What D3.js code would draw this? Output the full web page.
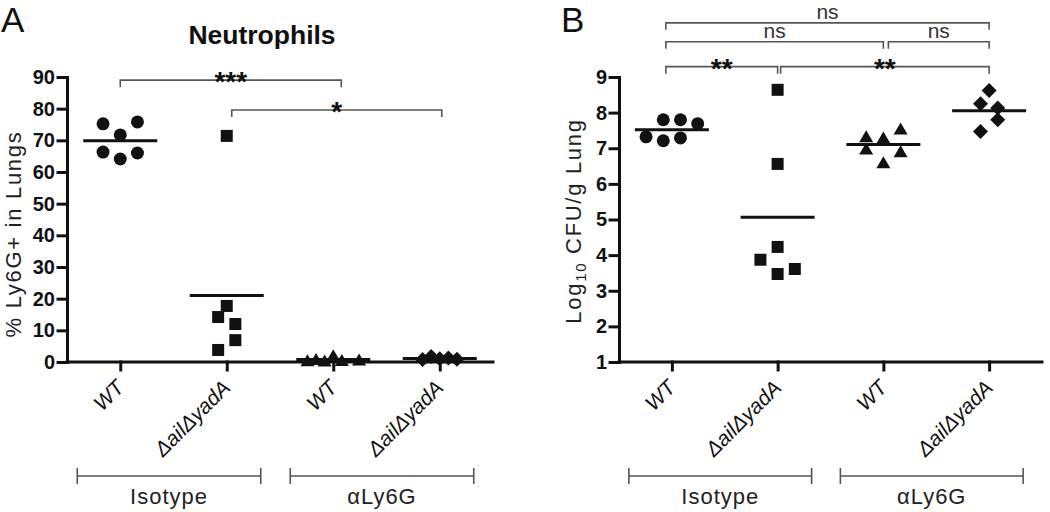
<!DOCTYPE html>
<html>
<head>
<meta charset="utf-8">
<script src="https://cdn.jsdelivr.net/npm/d3@7"></script>
<style>
body { margin: 0; background: #fff; }
svg { font-family: "Liberation Sans", Arial, Helvetica, sans-serif; }
</style>
</head>
<body>
<div id="chart"></div>
<script>
// categories shared by both panels
var strains = ["WT", "\u0394ail\u0394yadA", "WT", "\u0394ail\u0394yadA"];
var treatments = ["Isotype", "\u03b1Ly6G"];
var symbols = ["circle", "square", "triangle", "diamond"];

// panel A - % Ly6G+ in lungs
var neutWTIso = [75.2, 75.8, 71.7, 66.3, 66.0, 64.1];
var neutMutIso = [71.4, 17.7, 14.2, 12.0, 6.9, 3.8];
var neutWTLy6G = [0.4, 0.8, 0.3, 2.0, 0.5, 0.6];
var neutMutLy6G = [0.8, 1.7, 1.0, 1.3, 0.9];
// column slot of each point (scatter spread, half symbol widths)
var neutSlots = [[-2, 2, 0, -2, 2, 0], [0, 0, -1, 1, 1, -1], [-3, -2, -1, 0, 1, 3], [-2, -1, 0, 1, 2]];
var neutTicks = [0, 10, 20, 30, 40, 50, 60, 70, 80, 90];
var neutSig = [
    {from: 0, to: 2, at: 89, label: "***"},
    {from: 1, to: 3, at: 79.6, label: "*"}
];

// panel B - log10 CFU/g lung
var cfuWTIso = [7.32, 7.80, 7.21, 7.80, 7.29, 7.69];
var cfuMutIso = [8.64, 6.56, 4.23, 3.87, 3.61, 3.47];
var cfuWTLy6G = [7.32, 7.29, 7.54, 6.98, 6.90, 6.59];
var cfuMutLy6G = [8.62, 8.25, 8.13, 7.80, 7.47];
var cfuSlots = [[-3, -1, -1, 1, 1, 3], [0, 0, 0, -2, 2, 0], [-2, 0, 2, -2, 2, 0], [0, -1, 1, 1, -1]];
var cfuTicks = [1, 2, 3, 4, 5, 6, 7, 8, 9];
var cfuSig = [
    {from: 0, to: 3, at: 10.52, label: "ns"},
    {from: 0, to: 2, at: 9.99, label: "ns"},
    {from: 2, to: 3, at: 9.99, label: "ns"},
    {from: 0, to: 1, at: 9.29, label: "**"},
    {from: 1, to: 3, at: 9.29, label: "**"}
];

var svg = d3.select("#chart").append("svg")
    .attr("width", 1050)
    .attr("height", 512);

/**
 * One scatter panel (dots + mean line) in GraphPad style
 */
function ScatterPanel(svg, opts) {
    var self = this;
    self.svg = svg;
    self.opts = opts;
    self.init();
}

ScatterPanel.prototype.init = function() {
    var self = this;
    var o = self.opts;
    var g = self.svg.append("g");
    var axisY = 362, topY = 77;

    self.x = d3.scalePoint()
        .domain(d3.range(strains.length))
        .range([o.left, o.right])
        .padding(0.5);
    self.y = d3.scaleLinear()
        .domain(o.domain)
        .range([axisY, topY]);

    // y axis
    var yAxis = g.append("g")
        .attr("transform", "translate(" + o.left + ",0)")
        .call(d3.axisLeft(self.y).tickValues(o.ticks).tickSize(9).tickSizeOuter(0).tickPadding(3));
    yAxis.selectAll("path, line").attr("stroke", "#111").attr("stroke-width", 3).attr("stroke-linecap", "square");
    yAxis.selectAll("text")
        .attr("font-size", 20)
        .attr("font-weight", "bold")
        .attr("fill", "#111")
        .attr("font-family", "Liberation Sans, Arial, sans-serif");

    // x axis
    var xAxis = g.append("g")
        .attr("transform", "translate(0," + axisY + ")")
        .call(d3.axisBottom(self.x).tickSize(8).tickSizeOuter(0).tickFormat(""));
    xAxis.select(".domain").attr("d", "M" + o.left + ",0H" + o.right);
    xAxis.selectAll("path, line").attr("stroke", "#111").attr("stroke-width", 3).attr("stroke-linecap", "square");

    // rotated strain labels
    g.selectAll(".strain")
        .data(strains)
        .enter()
        .append("text")
        .attr("class", "strain")
        .attr("transform", function(d, i) {
            return "translate(" + (self.x(i) + 5) + "," + (axisY + 27) + ") rotate(-45)";
        })
        .attr("text-anchor", "end")
        .attr("font-size", 21)
        .attr("font-style", "italic")
        .attr("fill", "#111")
        .text(function(d) { return d; });

    // treatment group brackets
    treatments.forEach(function(t, k) {
        var x1 = self.x(2 * k) - 43, x2 = self.x(2 * k + 1) + 34, yb = 476;
        g.append("path")
            .attr("d", "M" + x1 + "," + (yb - 8) + "V" + (yb + 8) + "M" + x1 + "," + yb + "H" + x2 +
                "M" + x2 + "," + (yb - 8) + "V" + (yb + 8))
            .attr("fill", "none")
            .attr("stroke", "#555")
            .attr("stroke-width", 1.6);
        g.append("text")
            .attr("x", (x1 + x2) / 2)
            .attr("y", 504)
            .attr("text-anchor", "middle")
            .attr("font-size", 22)
            .attr("letter-spacing", 1)
            .attr("fill", "#222")
            .text(t);
    });

    // points
    var unit = o.unit;
    o.series.forEach(function(vals, i) {
        var shape = symbols[i];
        g.selectAll(".pt" + i)
            .data(vals)
            .enter()
            .append("path")
            .attr("class", "pt" + i)
            .attr("d", function(d, j) {
                return self.marker(shape, self.x(i) + o.slots[i][j] * unit, self.y(d));
            })
            .attr("fill", "#111");

        // mean line
        var m = d3.mean(vals);
        g.append("line")
            .attr("x1", self.x(i) - 37)
            .attr("x2", self.x(i) + 37)
            .attr("y1", self.y(m))
            .attr("y2", self.y(m))
            .attr("stroke", "#111")
            .attr("stroke-width", 3);
    });

    // significance brackets
    o.sig.forEach(function(s, k) {
        var nudge = o.sigNudge[k];
        var x1 = self.x(s.from) + nudge[0], x2 = self.x(s.to) + nudge[1], yb = self.y(s.at);
        g.append("path")
            .attr("d", "M" + x1 + "," + (yb + 7) + "V" + yb + "H" + x2 + "V" + (yb + 7))
            .attr("fill", "none")
            .attr("stroke", "#555")
            .attr("stroke-width", 1.6);
        var stars = s.label.indexOf("*") === 0;
        g.append("text")
            .attr("x", (x1 + x2) / 2)
            .attr("y", stars ? yb + 11 : yb - 4)
            .attr("text-anchor", "middle")
            .attr("font-size", stars ? 28 : 21)
            .attr("font-weight", stars ? "bold" : "normal")
            .attr("fill", stars ? "#111" : "#333")
            .text(s.label);
    });
};

/**
 * Path for one marker centred on (cx, cy)
 */
ScatterPanel.prototype.marker = function(shape, cx, cy) {
    var p = d3.path();
    if (shape === "circle") {
        p.arc(cx, cy, 6.5, 0, 2 * Math.PI);
    } else if (shape === "square") {
        p.rect(cx - 6, cy - 6, 12, 12);
    } else if (shape === "triangle") {
        p.moveTo(cx, cy - 6.5);
        p.lineTo(cx + 7, cy + 5.5);
        p.lineTo(cx - 7, cy + 5.5);
        p.closePath();
    } else {
        p.moveTo(cx, cy - 7.5);
        p.lineTo(cx + 7.5, cy);
        p.lineTo(cx, cy + 7.5);
        p.lineTo(cx - 7.5, cy);
        p.closePath();
    }
    return p.toString();
};

var panelA = new ScatterPanel(svg, {
    left: 67, right: 493,
    domain: [0, 90], ticks: neutTicks,
    series: [neutWTIso, neutMutIso, neutWTLy6G, neutMutLy6G],
    slots: neutSlots, unit: 8.6,
    sig: neutSig, sigNudge: [[0, 8], [5, 2]]
});

var panelB = new ScatterPanel(svg, {
    left: 619, right: 1042,
    domain: [1, 9], ticks: cfuTicks,
    series: [cfuWTIso, cfuMutIso, cfuWTLy6G, cfuMutLy6G],
    slots: cfuSlots, unit: 8.6,
    sig: cfuSig, sigNudge: [[-6, 0], [-6, 0], [5, 0], [-6, 0], [3, 0]]
});

// panel letters, titles, axis titles
svg.append("text").attr("x", 1).attr("y", 32).attr("font-size", 35).attr("fill", "#111").text("A");
svg.append("text").attr("x", 561).attr("y", 32).attr("font-size", 35).attr("fill", "#111").text("B");

svg.append("text")
    .attr("x", 262).attr("y", 44)
    .attr("text-anchor", "middle")
    .attr("font-size", 26.5)
    .attr("font-weight", "bold")
    .attr("fill", "#111")
    .text("Neutrophils");

svg.append("text")
    .attr("transform", "translate(21,234) rotate(-90)")
    .attr("text-anchor", "middle")
    .attr("font-size", 22)
    .attr("letter-spacing", 1.7)
    .attr("fill", "#222")
    .text("% Ly6G+ in Lungs");

var yTitleB = svg.append("text")
    .attr("transform", "translate(581,221) rotate(-90)")
    .attr("text-anchor", "middle")
    .attr("font-size", 22)
    .attr("letter-spacing", 1.7)
    .attr("fill", "#222");
yTitleB.append("tspan").text("Log");
yTitleB.append("tspan").attr("font-size", 15).attr("dy", 5).text("10");
yTitleB.append("tspan").attr("dy", -5).text(" CFU/g Lung");
</script>
</body>
</html>
